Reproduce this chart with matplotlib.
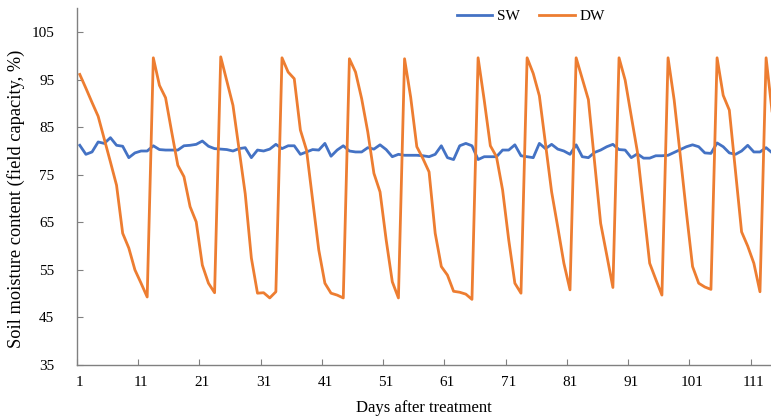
import numpy as np
from matplotlib import pyplot as plt

# Soil moisture readings, one per day after treatment
days = list(range(1, 115))
sw = [81.2, 79.3, 79.8, 81.9, 81.6, 82.8, 81.2, 81.0, 78.6, 79.6,
      80.0, 80.0, 81.1, 80.3, 80.2, 80.2, 80.2, 81.1, 81.2, 81.4,
      82.1, 81.0, 80.5, 80.4, 80.3, 80.0, 80.5, 80.7, 78.6, 80.2,
      80.0, 80.4, 81.4, 80.5, 81.1, 81.1, 79.3, 79.8, 80.3, 80.2,
      81.6, 78.9, 80.2, 81.1, 80.0, 79.8, 79.8, 80.7, 80.4, 81.3,
      80.3, 78.8, 79.3, 79.1, 79.1, 79.1, 79.0, 78.8, 79.3, 81.1,
      78.6, 78.2, 81.1, 81.6, 81.1, 78.2, 78.8, 78.8, 78.8, 80.2,
      80.2, 81.3, 79.0, 78.8, 78.6, 81.6, 80.5, 81.4, 80.4, 80.0,
      79.3, 81.3, 78.8, 78.6, 79.7, 80.2, 80.9, 81.4, 80.3, 80.2,
      78.6, 79.4, 78.5, 78.5, 79.0, 79.0, 79.1, 79.7, 80.3, 80.9,
      81.3, 80.9, 79.6, 79.5, 81.7, 80.9, 79.6, 79.3, 80.0, 81.2,
      79.8, 79.8, 80.7, 79.6]
dw = [96.1, 93.2, 90.2, 87.3, 82.5, 77.7, 72.8, 62.7, 59.6, 55.0,
      52.2, 49.3, 99.6, 93.8, 91.2, 84.0, 77.0, 74.6, 68.3, 65.1,
      56.0, 52.2, 50.2, 99.8, 94.7, 89.6, 80.3, 71.0, 57.5, 50.1,
      50.2, 49.1, 50.4, 99.6, 96.6, 95.2, 84.4, 80.2, 69.7, 59.2,
      52.2, 50.1, 49.7, 49.1, 99.4, 96.6, 91.0, 84.0, 75.3, 71.4,
      61.3, 52.5, 49.1, 99.4, 91.3, 80.9, 78.4, 75.6, 62.7, 55.7,
      53.9, 50.5, 50.3, 49.9, 48.8, 99.6, 90.7, 81.1, 78.8, 71.8,
      61.3, 52.2, 50.1, 99.6, 96.3, 91.6, 81.5, 71.4, 64.0, 56.4,
      50.8, 99.6, 95.2, 90.8, 77.8, 64.8, 58.1, 51.3, 99.6, 94.9,
      87.3, 79.8, 68.1, 56.4, 53.0, 49.7, 99.6, 90.7, 79.0, 67.0,
      55.7, 52.2, 51.4, 50.9, 99.6, 91.7, 88.6, 75.8, 63.0, 60.0,
      56.4, 50.4, 99.6, 88.0]
xtick_labels = [1, 11, 21, 31, 41, 51, 61, 71, 81, 91, 101, 111]
yticks = [35, 45, 55, 65, 75, 85, 95, 105]

plt.rcParams['font.family'] = ['Liberation Serif', 'DejaVu Serif']

fig = plt.figure(figsize=(7.71, 4.17), dpi=100)
ax = fig.add_axes([0.0995, 0.1247, 0.9005, 0.8553])

ax.plot(days, sw, color='#4472C4', lw=2.0, label='SW')
ax.plot(days, dw, color='#ED7D31', lw=2.0, label='DW')

ax.set_xlim(0.5, 113.8)
ax.set_ylim(35, 110)

# category axis: tick marks between categories, labels on the categories
ax.set_xticks(np.array(xtick_labels) - 0.5)
ax.set_xticklabels([])
ax.set_xticks(xtick_labels, minor=True)
ax.set_xticklabels([str(v) for v in xtick_labels], minor=True, fontsize=11)
ax.tick_params(axis='x', which='major', direction='in', length=4, color='#808080')
ax.tick_params(axis='x', which='minor', length=0, pad=8)

ax.set_yticks(yticks)
ax.set_yticklabels([str(v) for v in yticks], fontsize=11)
ax.tick_params(axis='y', direction='in', length=4, color='#808080', pad=16)

for s in ['top', 'right']:
    ax.spines[s].set_visible(False)
for s in ['left', 'bottom']:
    ax.spines[s].set_color('#808080')
    ax.spines[s].set_linewidth(1.0)

ax.set_xlabel('Days after treatment', fontsize=12, labelpad=8)
ax.set_ylabel('Soil moisture content (field capacity, %)', fontsize=13.2)
ax.yaxis.set_label_coords(-0.075, 0.465)

ax.legend(loc='center', bbox_to_anchor=(0.654, 0.978), ncol=2, frameon=False,
          fontsize=11, handlelength=2.3, columnspacing=1.3, handletextpad=0.3)

fig.savefig('out.png', dpi=100)
